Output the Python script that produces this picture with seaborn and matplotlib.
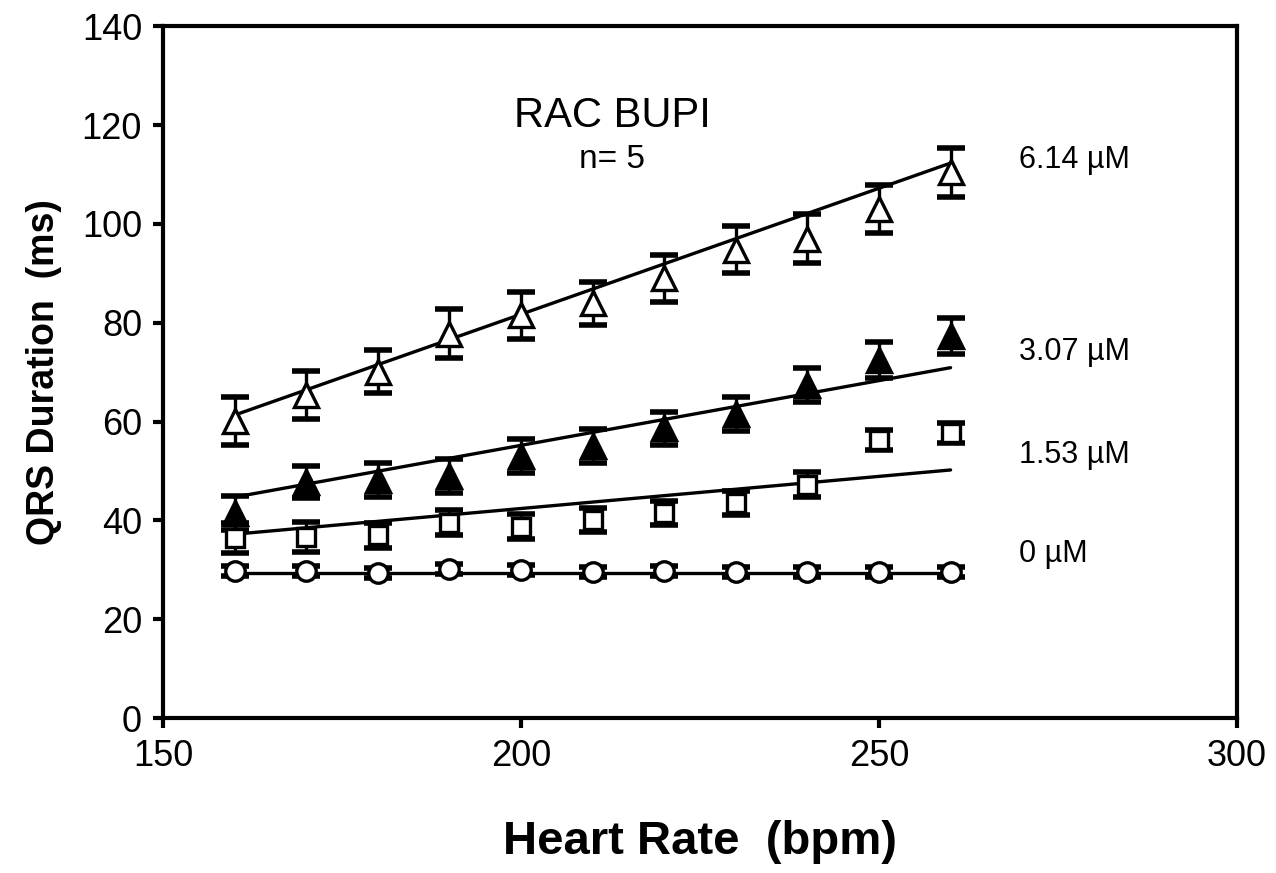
import matplotlib
matplotlib.use("Agg")
import matplotlib.pyplot as plt
import numpy as np
import pandas as pd
import seaborn as sns

# heart rate steps (bpm)
heart_rate = [160, 170, 180, 190, 200, 210, 220, 230, 240, 250, 260]

# QRS duration (ms), mean and error for each concentration
qrs_0 = [29.8, 29.8, 29.4, 30.2, 30.0, 29.6, 29.7, 29.6, 29.6, 29.6, 29.6]
err_0 = [1.0, 1.0, 1.0, 1.0, 1.0, 1.0, 1.0, 1.0, 1.0, 1.0, 1.0]

qrs_153 = [36.4, 36.6, 37.0, 39.5, 38.7, 40.1, 41.5, 43.5, 47.2, 56.3, 57.7]
err_153 = [3.0, 3.0, 2.5, 2.5, 2.5, 2.5, 2.5, 2.5, 2.5, 2.0, 2.0]

qrs_307 = [41.5, 47.8, 48.2, 49.0, 53.0, 55.1, 58.6, 61.5, 67.4, 72.5, 77.3]
err_307 = [3.5, 3.2, 3.4, 3.5, 3.4, 3.4, 3.3, 3.5, 3.4, 3.6, 3.7]

qrs_614 = [60.1, 65.4, 70.1, 77.8, 81.5, 83.9, 89.0, 94.8, 97.0, 103.0, 110.4]
err_614 = [4.9, 4.9, 4.4, 5.0, 4.8, 4.4, 4.8, 4.8, 4.9, 4.9, 5.0]

# regression line end points
fit_x = [160, 260]
fit_0 = [29.4, 29.4]
fit_153 = [37.2, 50.2]
fit_307 = [44.7, 70.9]
fit_614 = [61.3, 112.3]

conc_labels = ["0 µM", "1.53 µM", "3.07 µM", "6.14 µM"]
label_y = [33.2, 53.2, 74.1, 113.0]

sns.set_theme(style="ticks", rc={"text.color": "black", "axes.labelcolor": "black"})
plt.rcParams['font.family'] = ['Liberation Sans', 'DejaVu Sans']

fig, ax = plt.subplots(figsize=(12.76, 8.73), dpi=100)
fig.subplots_adjust(left=0.1277, right=0.9694, bottom=0.1775, top=0.970)

series = [
    (qrs_0, err_0, fit_0, "o", "white", 14),
    (qrs_153, err_153, fit_153, "s", "white", 13.5),
    (qrs_307, err_307, fit_307, "^", "black", 17),
    (qrs_614, err_614, fit_614, "^", "white", 17),
]

for vals, errs, fit, mk, face, ms in series:
    df = pd.DataFrame({"hr": heart_rate, "qrs": vals})
    ax.errorbar(heart_rate, vals, yerr=errs, fmt="none", ecolor="black",
                elinewidth=2.4, capsize=10, capthick=4, zorder=2)
    sns.lineplot(x=fit_x, y=fit, color="black", linewidth=2.4, ax=ax, zorder=3)
    ax.plot(df["hr"], df["qrs"], linestyle="none", marker=mk, markersize=ms,
            markerfacecolor=face, markeredgecolor="black",
            markeredgewidth=2.4, zorder=4)

ax.set_xlim(150, 300)
ax.set_ylim(0, 140)
ax.set_xticks([150, 200, 250, 300])
ax.set_yticks(range(0, 141, 20))
ax.tick_params(axis="both", labelsize=26, length=7, width=3, color="black",
               labelcolor="black", pad=8)

for s in ax.spines.values():
    s.set_linewidth(3)
    s.set_color("black")

ax.set_xlabel("Heart Rate  (bpm)", fontsize=34, fontweight="bold", labelpad=33)
ax.set_ylabel("QRS Duration  (ms)", fontsize=27, fontweight="bold", labelpad=14)

ax.text(212.7, 121.9, "RAC BUPI", fontsize=30, ha="center", va="center")
ax.text(212.7, 113.0, "n= 5", fontsize=24, ha="center", va="center")

for lab, ly in zip(conc_labels, label_y):
    ax.text(269.5, ly, lab, fontsize=22, ha="left", va="center")

fig.savefig("out.png", dpi=100)
